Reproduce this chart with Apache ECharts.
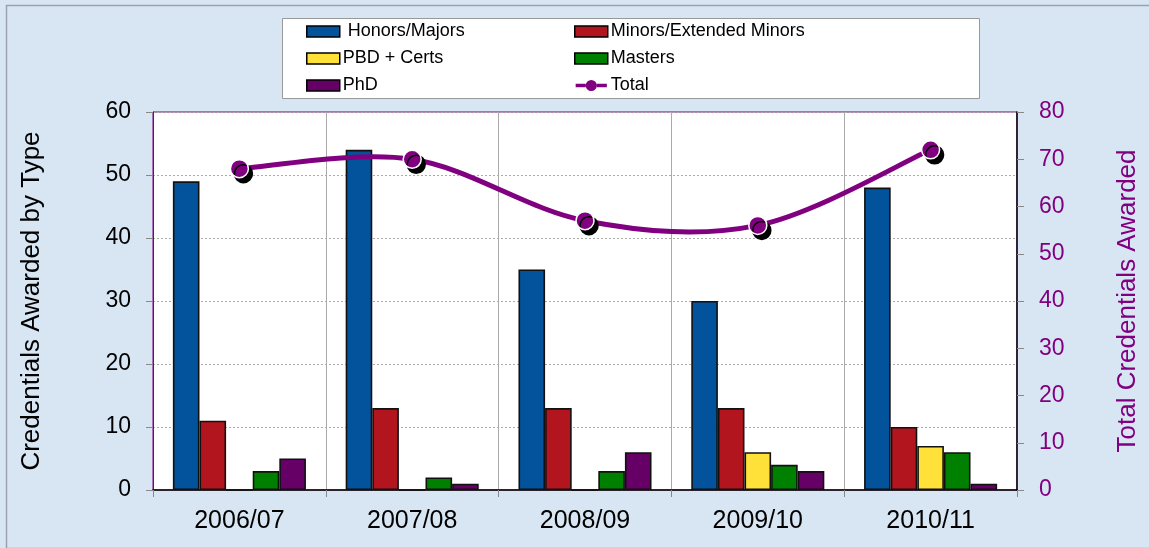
<!DOCTYPE html>
<html>
<head>
<meta charset="utf-8">
<script src="https://cdn.jsdelivr.net/npm/echarts@6/dist/echarts.min.js"></script>
<style>
html,body{margin:0;padding:0;background:#d8e6f4;}
#c{width:1149px;height:548px;}
</style>
</head>
<body>
<div id="c"></div>
<script>
const categories = ['2006/07', '2007/08', '2008/09', '2009/10', '2010/11'];
const honors = [49, 54, 35, 30, 48];
const minors = [11, 13, 13, 13, 10];
const pbd = [0, 0, 0, 6, 7];
const masters = [3, 2, 3, 4, 6];
const phd = [5, 1, 6, 3, 1];
const total = [68, 70, 57, 56, 72];
const leftTicks = {min: 0, max: 60, interval: 10};
const rightTicks = {min: 0, max: 80, interval: 10};

const FONT = '"Liberation Sans", Arial, sans-serif';
const PURPLE = '#800080';
const chart = echarts.init(document.getElementById('c'), null, {renderer: 'canvas'});

function barSeries(name, data, color) {
  return {
    name: name, type: 'bar', data: data, yAxisIndex: 0,
    barGap: '0%', barCategoryGap: '23%',
    itemStyle: {color: color, borderColor: '#111', borderWidth: 1.6},
    emphasis: {disabled: true}
  };
}

const totalIcon = 'path://M0,4 L11,4 L11,8 L0,8 Z M23,4 L34,4 L34,8 L23,8 Z M11,6 A6,6 0 1,1 23,6 A6,6 0 1,1 11,6 Z';

const legendCommon = {
  orient: 'vertical', top: 21, padding: 0, itemWidth: 33, itemHeight: 11, itemGap: 6,
  icon: 'rect',
  itemStyle: {borderColor: '#000', borderWidth: 1.5},
  textStyle: {fontFamily: FONT, fontSize: 18, lineHeight: 21, color: '#000', padding: [0, 0, 0, -2]},
  selectedMode: false
};

// Catmull-Rom segment drawn through the axis coordinates of the totals
function renderCurve(params, api) {
  const i = params.dataIndex;
  if (i >= total.length - 1) return null;
  const clampIdx = (k) => Math.max(0, Math.min(total.length - 1, k));
  const p = (k) => api.coord([clampIdx(k), total[clampIdx(k)]]);
  const p0 = p(i - 1), p1 = p(i), p2 = p(i + 1), p3 = p(i + 2);
  return {
    type: 'bezierCurve',
    shape: {
      x1: p1[0], y1: p1[1], x2: p2[0], y2: p2[1],
      cpx1: p1[0] + (p2[0] - p0[0]) / 6, cpy1: p1[1] + (p2[1] - p0[1]) / 6,
      cpx2: p2[0] - (p3[0] - p1[0]) / 6, cpy2: p2[1] - (p3[1] - p1[1]) / 6
    },
    style: {stroke: PURPLE, lineWidth: 5, fill: null}
  };
}

chart.setOption({
  backgroundColor: '#d8e6f4',
  animation: false,
  graphic: [{
    type: 'rect', left: 4, top: 3, shape: {width: 1160, height: 543},
    style: {fill: null, stroke: '#9aa3ad', lineWidth: 1.5}, z: -2
  }, {
    type: 'rect', left: 282, top: 18, shape: {width: 697, height: 80},
    style: {fill: '#fff', stroke: '#999', lineWidth: 1}, z: -1
  }],
  legend: [
    Object.assign({}, legendCommon, {left: 306, data: [' Honors/Majors', 'PBD + Certs', 'PhD']}),
    Object.assign({}, legendCommon, {left: 574, data: ['Minors/Extended Minors', 'Masters',
      {name: 'Total', icon: totalIcon, itemStyle: {color: PURPLE, borderWidth: 0}}]})
  ],
  grid: {left: 153, right: 127, top: 112, bottom: 58, show: true, backgroundColor: '#fff', borderColor: PURPLE, borderWidth: 1},
  xAxis: {
    type: 'category', data: categories,
    axisLine: {lineStyle: {color: '#000', width: 1.5}},
    axisTick: {show: true, length: 7, lineStyle: {color: '#888'}},
    axisLabel: {fontFamily: FONT, fontSize: 25, color: '#000', margin: 19},
    splitLine: {show: true, lineStyle: {color: '#aaa', width: 1}}
  },
  yAxis: [{
    type: 'value', min: leftTicks.min, max: leftTicks.max, interval: leftTicks.interval,
    name: 'Credentials Awarded by Type', nameLocation: 'middle', nameGap: 108,
    nameTextStyle: {fontFamily: FONT, fontSize: 26, color: '#000'},
    axisLine: {show: true, lineStyle: {color: PURPLE, width: 1}},
    axisTick: {show: true, length: 7, lineStyle: {color: '#888'}},
    axisLabel: {fontFamily: FONT, fontSize: 23, color: '#000', margin: 22},
    splitLine: {show: true, lineStyle: {color: '#aaa', type: [2, 2], width: 1}}
  }, {
    type: 'value', min: rightTicks.min, max: rightTicks.max, interval: rightTicks.interval,
    name: 'Total Credentials Awarded', nameLocation: 'middle', nameGap: 98, nameRotate: 90,
    nameTextStyle: {fontFamily: FONT, fontSize: 26, color: PURPLE},
    position: 'right',
    axisLine: {show: true, lineStyle: {color: '#000', width: 1.5}},
    axisTick: {show: true, length: 7, lineStyle: {color: '#888'}},
    axisLabel: {fontFamily: FONT, fontSize: 23, color: PURPLE, margin: 22},
    splitLine: {show: false}
  }],
  series: [
    barSeries(' Honors/Majors', honors, '#02529c'),
    barSeries('Minors/Extended Minors', minors, '#b3151e'),
    barSeries('PBD + Certs', pbd, '#ffe13a'),
    barSeries('Masters', masters, '#008000'),
    barSeries('PhD', phd, '#660066'),
    {
      name: 'TotalCurve', type: 'custom', yAxisIndex: 1, data: total,
      renderItem: renderCurve, z: 9, silent: true
    },
    {
      name: 'Total', type: 'line', yAxisIndex: 1, data: total, smooth: false,
      symbol: 'circle', symbolSize: 18, z: 10,
      lineStyle: {color: PURPLE, width: 0, opacity: 0},
      itemStyle: {color: PURPLE, borderColor: '#fff', borderWidth: 1.5,
        shadowColor: '#000', shadowOffsetX: 4, shadowOffsetY: 5, shadowBlur: 0},
      emphasis: {disabled: true}
    }
  ]
});
</script>
</body>
</html>
